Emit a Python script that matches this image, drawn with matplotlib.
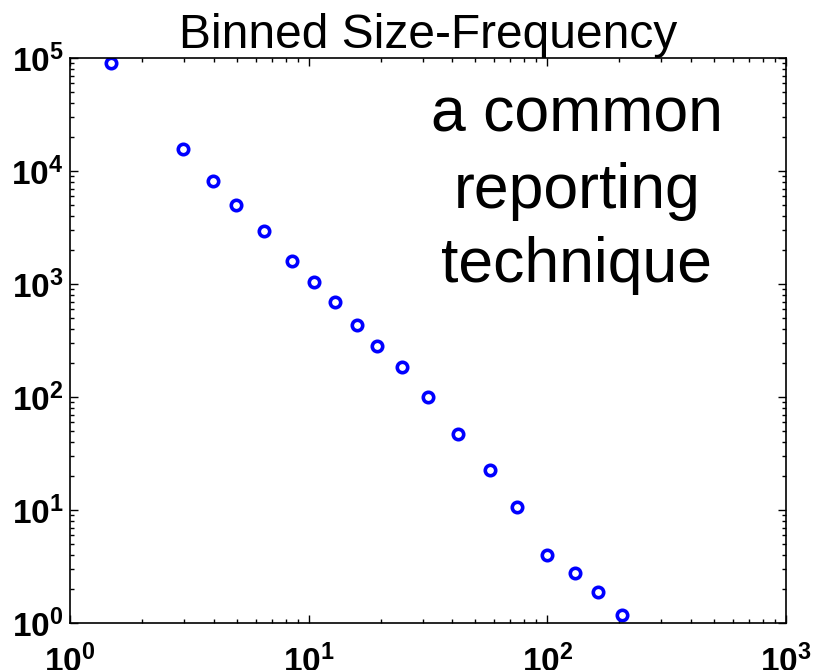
import matplotlib
matplotlib.use("Agg")
import matplotlib.pyplot as plt
import numpy as np

# binned size-frequency data
bin_size = [1.49, 2.98, 3.97, 4.98, 6.51, 8.5, 10.5, 12.9, 15.9, 19.4,
            24.5, 31.5, 42.3, 57.3, 74.6, 99.7, 130, 163, 205]
frequency = [90800, 15570, 8170, 5040, 2950, 1602, 1044, 692, 437, 285,
             184, 100.4, 47.5, 22.9, 10.7, 4.02, 2.80, 1.89, 1.18]

xticks = [1, 10, 100, 1000]
yticks = [1, 10, 100, 1000, 1e4, 1e5]
note_lines = ['a common', 'reporting', 'technique']

plt.rcParams['font.family'] = ['Liberation Sans', 'DejaVu Sans']
plt.rcParams['mathtext.fontset'] = 'custom'
plt.rcParams['mathtext.rm'] = 'Liberation Sans'
plt.rcParams['mathtext.bf'] = 'Liberation Sans:bold'

W, H = 819, 670
fig = plt.figure(figsize=(W / 100, H / 100), dpi=100)
ax = fig.add_axes([70 / W, 1 - 623.3 / H, 716 / W, 565.3 / H])

ax.loglog(bin_size, frequency, 'o', markerfacecolor='none',
          markeredgecolor='#0000ff', markersize=7.5, markeredgewidth=2.6)

ax.set_xlim(1, 1000)
ax.set_ylim(1, 1e5)

def tick_label(v):
    return r'$\mathbf{10^{%d}}$' % round(np.log10(v))

ax.set_xticks(xticks)
ax.set_xticklabels([tick_label(v) for v in xticks])
ax.set_yticks(yticks)
ax.set_yticklabels([tick_label(v) for v in yticks])

ax.tick_params(which='both', direction='in', top=True, right=True,
               labelsize=24, width=1)
ax.tick_params(which='major', length=6)
ax.tick_params(which='minor', length=3)
ax.tick_params(axis='x', which='major', pad=15)
ax.tick_params(axis='y', which='major', pad=4.5)
for s in ax.spines.values():
    s.set_linewidth(1.2)

ax.set_title('Binned Size-Frequency', fontsize=34.5, pad=2)

# annotation, one line per baseline
for line, base_px in zip(note_lines, [131.7, 208.3, 281.7]):
    fig.text(577 / W, 1 - base_px / H, line, ha='center', va='baseline',
             fontsize=45)

fig.savefig('out.png', dpi=100)
